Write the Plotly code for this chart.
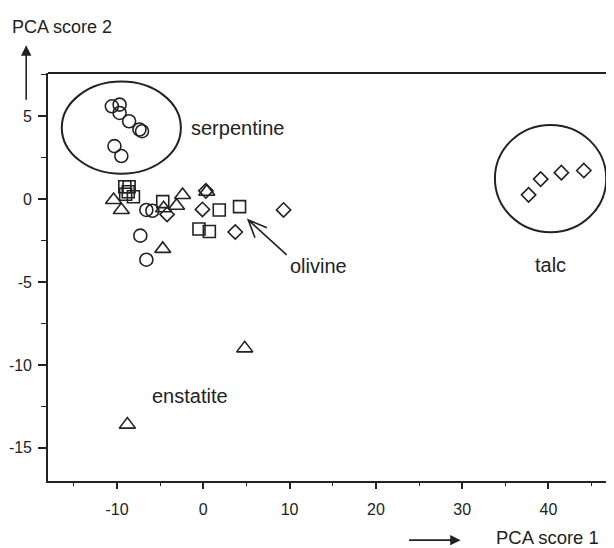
import plotly.graph_objects as go

# ---- data (PCA scores) ----
circle_x = [-10.6, -9.7, -9.7, -8.6, -7.4, -7.1, -10.3, -9.5, -6.6, -5.9, -7.3, -6.6]
circle_y = [5.6, 5.7, 5.2, 4.7, 4.2, 4.1, 3.2, 2.6, -0.65, -0.7, -2.2, -3.65]

square_x = [-9.1, -8.6, -9.0, -8.1, -8.7, -4.7, 1.85, 4.2, -0.5, 0.7]
square_y = [0.75, 0.75, 0.3, 0.15, 0.45, -0.15, -0.65, -0.45, -1.8, -1.95]

triangle_x = [-10.4, -9.5, -2.4, -3.1, -4.6, 0.4, -4.7, 4.8, -8.8]
triangle_y = [-0.05, -0.65, 0.25, -0.4, -0.55, 0.45, -3.0, -9.0, -13.6]

diamond_x = [0.3, -0.1, -4.2, 3.7, 9.3, 37.7, 39.1, 41.5, 44.1]
diamond_y = [0.5, -0.62, -0.92, -1.98, -0.65, 0.26, 1.21, 1.6, 1.73]

x_ticks = [-10, 0, 10, 20, 30, 40]
x_tick_labels = ["-10", "0", "10", "20", "30", "40"]
y_ticks = [5, 0, -5, -10, -15]
y_tick_labels = ["5", "0", "-5", "-10", "-15"]

# cluster outlines (x0, y0, x1, y1)
serpentine_box = [-16.4, 1.53, -2.6, 7.09]
talc_box = [33.8, -2.0, 46.7, 4.48]

labels = ["serpentine", "olivine", "talc", "enstatite"]
label_x = [-1.7, 9.8, 40.2, -1.5]
label_y = [4.3, -4.06, -3.96, -11.9]
label_anchor = ["left", "left", "center", "center"]

# olivine pointer: tail, tip, arm1, arm2
arrow_pts = [(9.66, -3.36), (5.21, -1.25), (7.38, -1.73), (5.99, -2.33)]

INK = "#222222"
FONT = "Liberation Sans, Arial, Helvetica, sans-serif"

fig = go.Figure()
for xs, ys, sym, size in [
    (circle_x, circle_y, "circle-open", 13),
    (square_x, square_y, "square-open", 12),
    (triangle_x, triangle_y, "triangle-up-open", 14),
    (diamond_x, diamond_y, "diamond-open", 11),
]:
    fig.add_trace(go.Scatter(
        x=xs, y=ys, mode="markers", showlegend=False,
        marker=dict(symbol=sym, size=size, color=INK, line=dict(color=INK, width=1.6)),
    ))

for b in (serpentine_box, talc_box):
    fig.add_shape(type="circle", xref="x", yref="y", x0=b[0], y0=b[1], x1=b[2], y1=b[3],
                  line=dict(color=INK, width=2))

(tx, ty), (hx, hy), (a1x, a1y), (a2x, a2y) = arrow_pts
fig.add_shape(type="path", xref="x", yref="y",
              path=f"M {tx} {ty} L {hx} {hy} M {a1x} {a1y} L {hx} {hy} L {a2x} {a2y}",
              line=dict(color=INK, width=1.6))

# top frame line
fig.add_shape(type="line", xref="paper", yref="paper", x0=0, x1=1, y0=1, y1=1,
              line=dict(color=INK, width=2))

for t, x, y, a in zip(labels, label_x, label_y, label_anchor):
    fig.add_annotation(x=x, y=y, text=t, showarrow=False, xanchor=a, yanchor="middle",
                       font=dict(family=FONT, size=20, color=INK))

# axis titles with arrows
fig.add_annotation(xref="paper", yref="paper", x=-0.0385, y=1.068, ax=0, ay=56,
                   text="", showarrow=True, arrowhead=2, arrowsize=1.3, arrowwidth=1.6,
                   arrowcolor=INK)
fig.add_annotation(xref="paper", yref="paper", x=-0.0677, y=1.113, text="PCA score 2",
                   showarrow=False, xanchor="left", yanchor="middle",
                   font=dict(family=FONT, size=18, color=INK))
fig.add_annotation(xref="paper", yref="paper", x=0.729, y=-0.145, ax=-53, ay=0,
                   text="", showarrow=True, arrowhead=2, arrowsize=1.3, arrowwidth=1.6,
                   arrowcolor=INK)
fig.add_annotation(xref="paper", yref="paper", x=0.79, y=-0.139, text="PCA score 1",
                   showarrow=False, xanchor="left", yanchor="middle", borderpad=0,
                   font=dict(family=FONT, size=18.5, color=INK))

# page has an 8px body margin, so the figure is 8px smaller and margins shifted
fig.update_layout(
    width=606, height=540,
    margin=dict(l=40, r=0, t=65, b=67),
    paper_bgcolor="white", plot_bgcolor="white",
    font=dict(family=FONT, size=16, color=INK),
    xaxis=dict(range=[-18, 47.6], tickvals=x_ticks, ticktext=x_tick_labels,
               showgrid=False, zeroline=False,
               showline=True, linecolor=INK, linewidth=1.6,
               ticks="outside", ticklen=6, tickwidth=1.6, tickcolor=INK,
               ticklabelstandoff=7,
               minor=dict(dtick=5, tick0=0, ticks="outside", ticklen=3, tickwidth=1.2,
                          tickcolor=INK, showgrid=False)),
    yaxis=dict(range=[-17, 7.61], tickvals=y_ticks, ticktext=y_tick_labels,
               showgrid=False, zeroline=False,
               showline=True, linecolor=INK, linewidth=1.6,
               ticks="outside", ticklen=8, tickwidth=1.6, tickcolor=INK,
               ticklabelstandoff=3,
               minor=dict(dtick=2.5, tick0=0, ticks="outside", ticklen=5, tickwidth=1.2,
                          tickcolor=INK, showgrid=False)),
)

fig.write_html("out.html")
